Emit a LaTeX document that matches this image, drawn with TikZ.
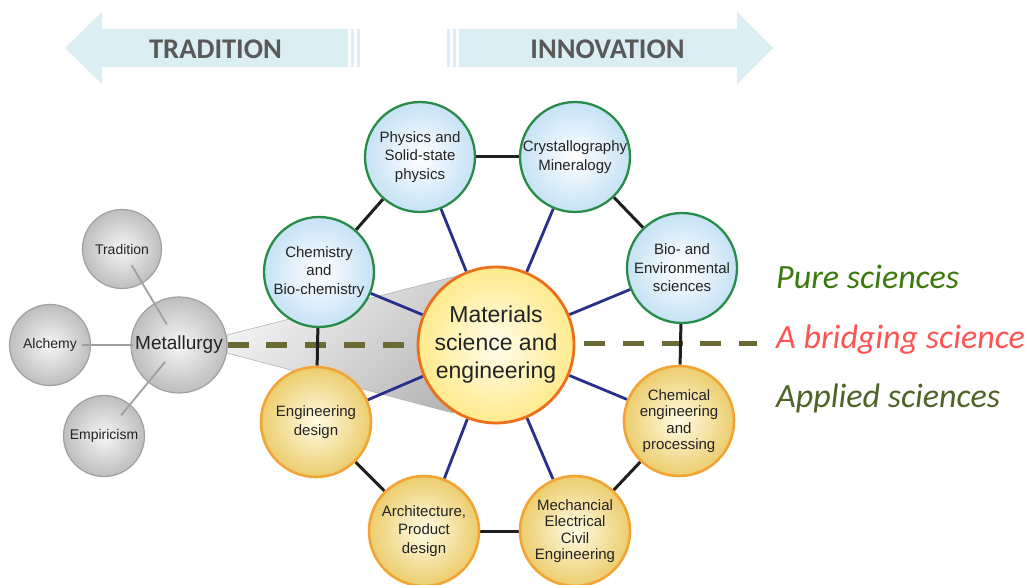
\documentclass[tikz,border=0pt]{standalone}
\usepackage{fontspec}
\setmainfont{Liberation Sans}
\newfontfamily\calibri{Carlito}
\usetikzlibrary{calc}
\pgfdeclarelayer{bg}
\pgfsetlayers{bg,main}

\definecolor{arrowblue}{RGB}{218,238,243}
\definecolor{arrowtext}{RGB}{89,89,89}
\definecolor{ringgreen}{RGB}{38,140,72}
\definecolor{pureedge}{RGB}{198,226,245}
\definecolor{ringorange}{RGB}{242,165,52}
\definecolor{appliedcore}{RGB}{255,252,228}
\definecolor{appliededge}{RGB}{236,205,110}
\definecolor{coreorange}{RGB}{236,112,28}
\definecolor{corein}{RGB}{255,253,236}
\definecolor{coreout}{RGB}{255,234,140}
\definecolor{oldin}{RGB}{246,246,246}
\definecolor{oldout}{RGB}{190,190,190}
\definecolor{oldedge}{RGB}{160,160,160}
\definecolor{spokeblue}{RGB}{40,48,140}
\definecolor{ringblack}{RGB}{30,30,30}
\definecolor{dashcol}{RGB}{108,106,52}
\definecolor{puregreen}{RGB}{58,122,14}
\definecolor{bridgered}{RGB}{255,84,84}
\definecolor{appliedgreen}{RGB}{79,98,40}
\definecolor{nodetext}{RGB}{35,35,35}
\definecolor{wedgelight}{RGB}{244,244,244}
\definecolor{wedgedark}{RGB}{182,182,182}

\tikzset{
  ringtext/.style={text=nodetext, align=center, font=\fontsize{15}{18.5}\selectfont},
  tighttext/.style={font=\fontsize{15}{16.3}\selectfont},
  pure/.style={circle, draw=ringgreen, line width=2.3pt, minimum size=110pt,
    inner sep=0pt, shade, inner color=white, outer color=pureedge, ringtext},
  applied/.style={circle, draw=ringorange, line width=2.6pt, minimum size=110pt,
    inner sep=0pt, shade, inner color=appliedcore, outer color=appliededge, ringtext},
  core/.style={circle, draw=coreorange, line width=2.8pt, minimum size=156pt,
    inner sep=0pt, shade, inner color=corein, outer color=coreout,
    text=nodetext, align=center, font=\fontsize{23}{28}\selectfont},
  oldnode/.style={circle, draw=oldedge, line width=1.2pt, minimum size=79pt,
    inner sep=0pt, shade, inner color=oldin, outer color=oldout,
    text=nodetext, font=\fontsize{14}{16}\selectfont},
  oldlink/.style={draw=oldedge, line width=1.8pt},
  spoke/.style={draw=spokeblue, line width=2.8pt},
  ringlink/.style={draw=ringblack, line width=3pt},
  dashline/.style={draw=dashcol, line width=5.5pt, dash pattern=on 21pt off 17.8pt},
  arrowlabel/.style={text=arrowtext, font=\calibri\bfseries\fontsize{28.5}{30}\selectfont, anchor=base},
  sidelabel/.style={font=\calibri\itshape\fontsize{34}{36}\selectfont, anchor=base west, inner sep=0pt}
}

\begin{document}
\begin{tikzpicture}[x=1pt,y=-1pt]
  \useasboundingbox (0,0) rectangle (1032,585);

  % direction arrows
  \fill[arrowblue] (65,48) -- (102,12) -- (102,29) -- (348,29) -- (348,67)
    -- (102,67) -- (102,84) -- cycle;
  \fill[arrowblue] (351,29) rectangle (354,67);
  \fill[arrowblue] (357,29) rectangle (360,67);
  \fill[arrowblue] (447,29) rectangle (450,67);
  \fill[arrowblue] (453,29) rectangle (456,67);
  \fill[arrowblue] (459,29) -- (737,29) -- (737,12) -- (773,48) -- (737,84)
    -- (737,67) -- (459,67) -- cycle;
  \node[arrowlabel] (tradlabel) at (215.5,59) {TRADITION};
  \node[arrowlabel] (innolabel) at (607.5,59) {INNOVATION};

  % the central discipline and its ring
  \node[core] (mse) at (496,345) {Materials\\science and\\engineering};
  \node[pure] (phys) at (420,157) {Physics and\\Solid-state\\physics};
  \node[pure] (cryst) at (575,157) {Crystallography\\Mineralogy};
  \node[pure] (chem) at (319,272) {Chemistry\\and\\Bio-chemistry};
  \node[pure] (bio) at (682,268) {Bio- and\\Environmental\\sciences};
  \node[applied] (engd) at (316,422) {Engineering\\design};
  \node[applied] (arch) at (424,531) {Architecture,\\Product\\design};
  \node[applied, tighttext] (mech) at (575,531) {Mechancial\\Electrical\\Civil\\Engineering};
  \node[applied, tighttext] (chemeng) at (679,421) {Chemical\\engineering\\and\\processing};

  % the older roots
  \node[oldnode] (trad) at (122,249) {Tradition};
  \node[oldnode, minimum size=81pt] (alch) at (50,345) {Alchemy};
  \node[oldnode, minimum size=81pt] (emp) at (104,436) {Empiricism};
  \node[oldnode, minimum size=96pt, font=\fontsize{19}{21}\selectfont] (met) at (179,345) {Metallurgy};

  \draw[oldlink, shorten <=19pt, shorten >=24pt] (trad.center) -- (met.center);
  \draw[oldlink, shorten <=32pt, shorten >=46pt] (alch.center) -- (met.center);
  \draw[oldlink, shorten <=27pt, shorten >=22pt] (emp.center) -- (met.center);

  % side labels
  \node[sidelabel, text=puregreen] (purelabel) at (776,288) {Pure sciences};
  \node[sidelabel, text=bridgered] (bridgelabel) at (776,348) {A bridging science};
  \node[sidelabel, text=appliedgreen] (appliedlabel) at (776,407) {Applied sciences};

  \coordinate (dashR) at (584,343.5);
  \coordinate (dashend) at (757,343.5);

  \begin{pgfonlayer}{bg}
    \fill[white] (0,0) rectangle (1032,585);
    % cone of influence from metallurgy
    \shade[top color=wedgelight, bottom color=wedgedark, shading angle=45,
      draw=oldedge!80, line width=0.6pt]
      (227,335) -- (492,267) -- (mse.center) -- (453,413) -- (227,353) -- cycle;
    % pure / applied divide
    \draw[dashline] (met.east) -- (mse.center);
    \draw[dashline] (dashR) -- (dashend);
    % spokes
    \foreach \n in {phys,cryst,chem,bio,engd,arch,mech,chemeng}
      \draw[spoke] (mse) -- (\n);
    % ring
    \draw[ringlink] (phys) -- (cryst);
    \draw[ringlink] (cryst) -- (bio);
    \draw[ringlink] (bio) -- (chemeng);
    \draw[ringlink] (chemeng) -- (mech);
    \draw[ringlink] (mech) -- (arch);
    \draw[ringlink] (arch) -- (engd);
    \draw[ringlink] (engd) -- (chem);
    \draw[ringlink] (chem) -- (phys);
  \end{pgfonlayer}
\end{tikzpicture}
\end{document}
